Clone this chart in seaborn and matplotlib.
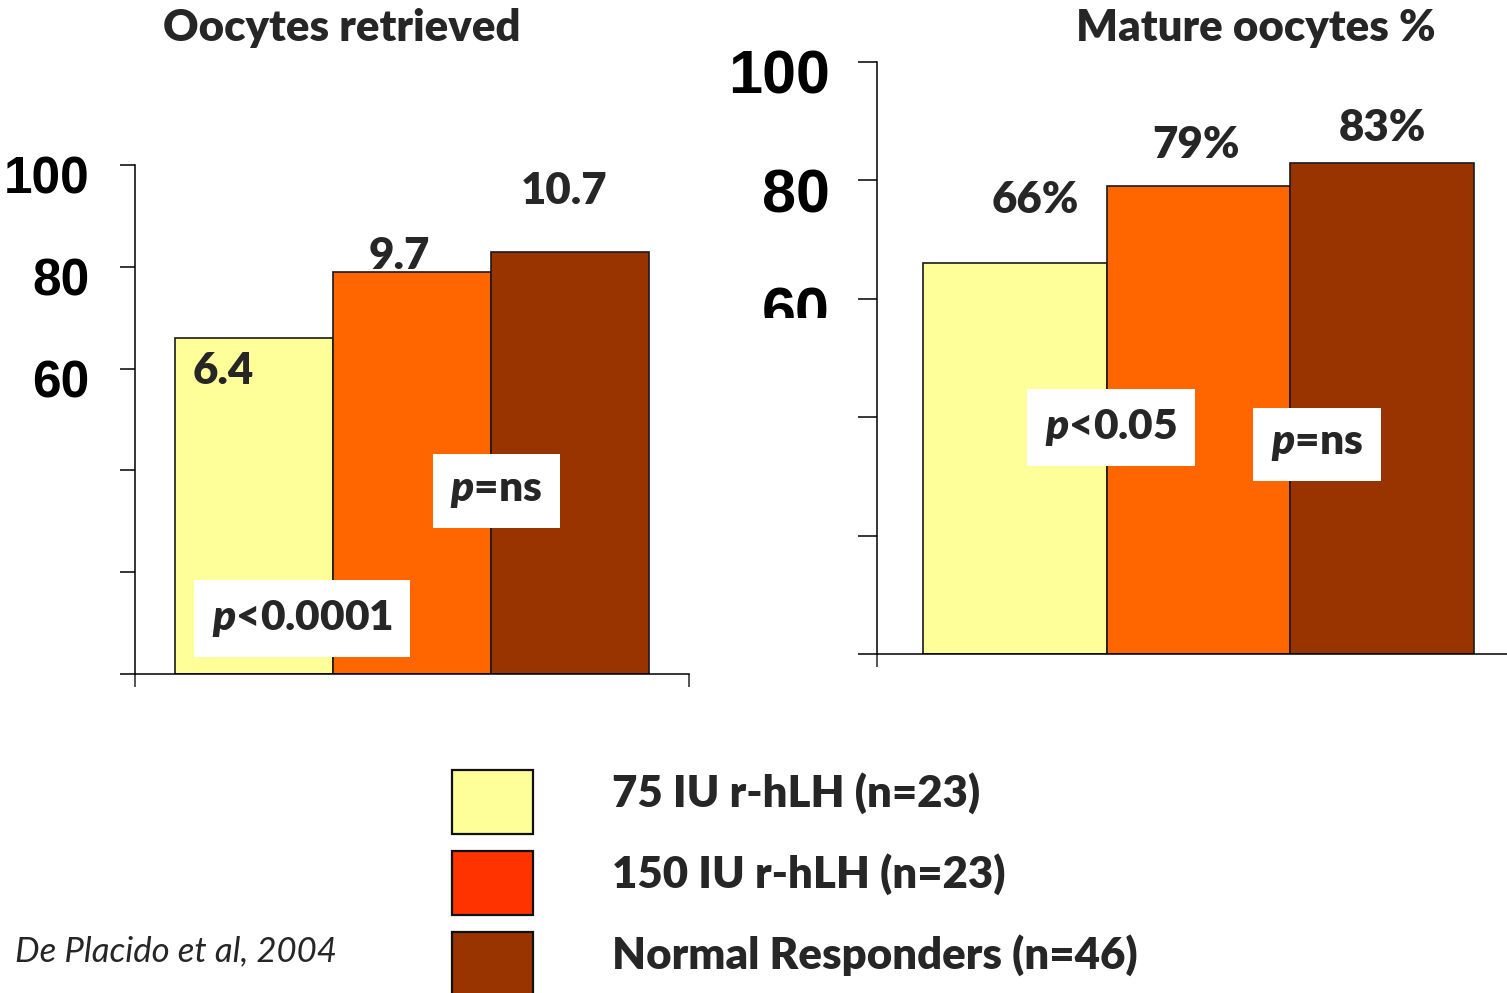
import matplotlib
matplotlib.use("Agg")
import matplotlib.pyplot as plt
import seaborn as sns
import pandas as pd
from matplotlib.patches import Rectangle
from matplotlib.transforms import ScaledTranslation, Bbox, TransformedBbox

# ---- data -------------------------------------------------------------
groups = ["75 IU r-hLH (n=23)", "150 IU r-hLH (n=23)", "Normal Responders (n=46)"]
oocytes_retrieved = [6.4, 9.7, 10.7]          # mean number of oocytes
mature_pct = [66, 79, 83]                      # % mature oocytes (bar heights)
bar_colors = ["#FFFF99", "#FF6600", "#993300"]
legend_colors = ["#FFFF99", "#FF3300", "#993300"]
yticks = [0, 20, 40, 60, 80, 100]
ytick_labels = ["", "", "", "60", "80", "100"]
left_pvalues = ["$p$<0.0001", "$p$=ns"]
right_pvalues = ["$p$<0.05", "$p$=ns"]
titles = ["Oocytes retrieved", "Mature oocytes %"]
citation = "De Placido et al, 2004"

# ---- style ------------------------------------------------------------
sns.set_style("white")
plt.rcParams["font.family"] = ["Lato", "DejaVu Sans"]
plt.rcParams["mathtext.fontset"] = "custom"
plt.rcParams["mathtext.it"] = "Lato:italic:heavy"
plt.rcParams["mathtext.rm"] = "Lato:heavy"

BOLD = "heavy"
W, H = 1507, 993
fig = plt.figure(figsize=(W / 100, H / 100), dpi=100)


def px_axes(left, top, right, bottom):
    return fig.add_axes([left / W, 1 - bottom / H, (right - left) / W, (bottom - top) / H])


ax_l = px_axes(135, 165, 689, 674)
ax_r = px_axes(877, 62, 1520, 654)

df = pd.DataFrame({"group": groups, "pct": mature_pct, "n": oocytes_retrieved})


def draw_panel(ax, tick_len, tick_pad, tick_size):
    sns.barplot(data=df, x="group", y="pct", hue="group", palette=bar_colors,
                saturation=1, width=1.0, edgecolor="#1a1a1a", linewidth=1.2,
                legend=False, ax=ax)
    ax.set_xlim(-0.75, 2.75)
    ax.set_ylim(0, 100)
    ax.set_xticks([-0.75, 2.75])
    ax.set_xticklabels([])
    ax.set_yticks(yticks)
    ax.set_yticklabels(ytick_labels, fontfamily="Liberation Sans",
                       fontweight="bold", fontsize=tick_size)
    ax.set_xlabel("")
    ax.set_ylabel("")
    for side in ("top", "right"):
        ax.spines[side].set_visible(False)
    for side in ("left", "bottom"):
        ax.spines[side].set_color("black")
        ax.spines[side].set_linewidth(1.1)
    ax.tick_params(axis="y", direction="out", length=tick_len, width=1.1,
                   pad=tick_pad, left=True, colors="black")
    ax.tick_params(axis="x", direction="out", length=9, width=1.1, bottom=True)
    shift = ScaledTranslation(0, -0.10, fig.dpi_scale_trans)
    for lab in ax.get_yticklabels():
        lab.set_transform(lab.get_transform() + shift)
    ax.patch.set_alpha(0)


draw_panel(ax_l, 11, 22, 37)
draw_panel(ax_r, 14, 20, 44)

# the lower tick label of the right panel is cut by the slide frame
clip = TransformedBbox(Bbox([[0, 1 - 318 / H], [1, 1]]), fig.transFigure)
for lab in ax_r.get_yticklabels():
    lab.set_clip_box(clip)
    lab.set_clip_on(True)

value_font = dict(fontsize=31.5, fontweight=BOLD, ha="center", va="center")

# value labels: oocyte counts on the left, percentages on the right
left_lab_dx = [-0.19, -0.08, -0.04]
left_lab_dy = [-6.5, 3.1, 11.9]
for i, (v, h) in enumerate(zip(oocytes_retrieved, mature_pct)):
    ax_l.text(i + left_lab_dx[i], h + left_lab_dy[i], f"{v}", **value_font)

right_lab_dx = [0.114, -0.014, 0.0]
right_lab_dy = [10.7, 7.0, 5.9]
for i, h in enumerate(mature_pct):
    ax_r.text(i + right_lab_dx[i], h + right_lab_dy[i], f"{h}%", **value_font)

# significance boxes
box = dict(boxstyle="square,pad=0.42", facecolor="white", edgecolor="none")
p_font = dict(fontsize=30.5, fontweight=BOLD, ha="center", va="center", bbox=box)
for txt, (x, y) in zip(left_pvalues, [(0.305, 10.9), (1.534, 36.0)]):
    ax_l.text(x, y, txt, **p_font)
for txt, (x, y) in zip(right_pvalues, [(0.524, 38.3), (1.645, 35.4)]):
    ax_r.text(x, y, txt, **p_font)

# panel titles
for txt, xc in zip(titles, [342, 1256]):
    fig.text(xc / W, 1 - 28 / H, txt, fontsize=31.5, fontweight=BOLD,
             ha="center", va="center")

# legend
for i, (name, col) in enumerate(zip(groups, legend_colors)):
    top = 770 + 81 * i
    fig.add_artist(Rectangle((452 / W, 1 - (top + 64) / H), 81 / W, 64 / H,
                             transform=fig.transFigure, facecolor=col,
                             edgecolor="#111111", linewidth=1.6))
    fig.text(612 / W, 1 - (top + 37) / H, name, fontsize=31.5, fontweight=BOLD,
             ha="left", va="baseline")

fig.text(15 / W, 1 - 961 / H, citation, fontsize=25, fontstyle="italic",
         ha="left", va="baseline")

fig.savefig("out.png", dpi=100, facecolor="white")
